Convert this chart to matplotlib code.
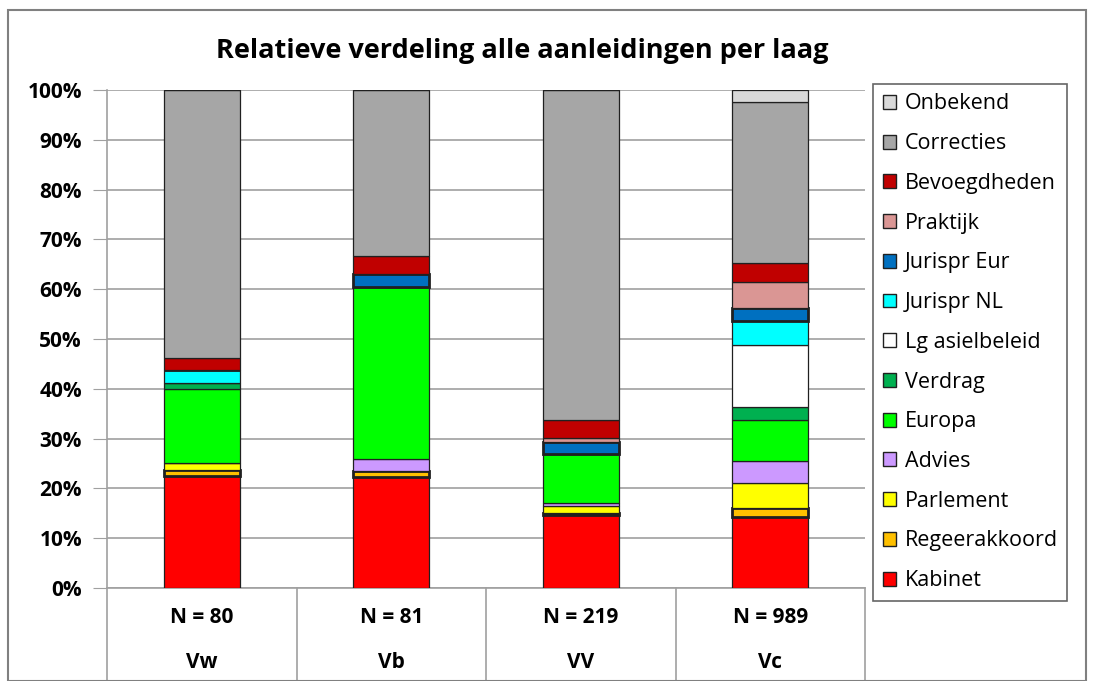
import matplotlib
matplotlib.use("Agg")
import matplotlib.pyplot as plt
from matplotlib.patches import Rectangle
from matplotlib.lines import Line2D
import numpy as np

plt.rcParams["font.family"] = ["Open Sans", "DejaVu Sans"]

# data (percent per layer)
groups = ["Vw", "Vb", "VV", "Vc"]
n_labels = ["N = 80", "N = 81", "N = 219", "N = 989"]
series = ["Kabinet", "Regeerakkoord", "Parlement", "Advies", "Europa", "Verdrag",
          "Lg asielbeleid", "Jurispr NL", "Jurispr Eur", "Praktijk",
          "Bevoegdheden", "Correcties", "Onbekend"]
kabinet = [22.5, 22.2, 14.6, 14.3]
regeerakkoord = [1.25, 1.2, 0.5, 1.8]
parlement = [1.25, 0.0, 1.4, 5.0]
advies = [0.0, 2.5, 0.5, 4.4]
europa = [15.0, 34.6, 10.0, 8.2]
verdrag = [1.25, 0.0, 0.0, 2.6]
lg_asielbeleid = [0.0, 0.0, 0.0, 12.4]
jurispr_nl = [2.5, 0.0, 0.0, 5.0]
jurispr_eur = [0.0, 2.5, 2.3, 2.6]
praktijk = [0.0, 0.0, 0.9, 5.1]
bevoegdheden = [2.5, 3.7, 3.6, 3.8]
correcties = [53.75, 33.3, 66.2, 32.3]
onbekend = [0.0, 0.0, 0.0, 2.5]

values = [kabinet, regeerakkoord, parlement, advies, europa, verdrag,
          lg_asielbeleid, jurispr_nl, jurispr_eur, praktijk,
          bevoegdheden, correcties, onbekend]
colors = ["#FF0000", "#FFC000", "#FFFF00", "#CC99FF", "#00FF00", "#00B050",
          "#FFFFFF", "#00FFFF", "#0070C0", "#DA9694", "#C00000", "#A6A6A6",
          "#D9D9D9"]
thick = {"Regeerakkoord", "Jurispr Eur"}

fig = plt.figure(figsize=(10.94, 6.81), dpi=100)
ax = fig.add_axes([0.0978, 0.1366, 0.6929, 0.7312])

x = np.arange(len(groups))
bottom = np.zeros(len(groups))
for name, vals, col in zip(series, values, colors):
    vals = np.array(vals)
    lw = 2.0 if name in thick else 0.9
    ax.bar(x, vals, 0.4, bottom=bottom, color=col, edgecolor="#202020",
           linewidth=lw, zorder=3)
    bottom += vals

ax.set_xlim(-0.5, len(groups) - 0.5)
ax.set_ylim(0, 100)
ax.set_yticks(np.arange(0, 101, 10))
ax.set_yticklabels([f"{v}%" for v in range(0, 101, 10)], fontsize=15,
                   fontweight="bold")
ax.tick_params(axis="y", length=10, color="#A0A0A0", pad=8)
ax.set_xticks([])
ax.grid(axis="y", color="#A0A0A0", linewidth=1.2, zorder=0)
for s in ["top", "right"]:
    ax.spines[s].set_visible(False)
ax.spines["left"].set_color("#A0A0A0")
ax.spines["bottom"].set_color("#A0A0A0")
ax.spines["left"].set_linewidth(1.2)
ax.spines["bottom"].set_linewidth(1.2)

# category table under the axis
for i in range(len(groups) + 1):
    ax.add_line(Line2D([i - 0.5, i - 0.5], [0, -19], color="#A0A0A0",
                       linewidth=1.2, transform=ax.transData, clip_on=False))
for i, (n, g) in enumerate(zip(n_labels, groups)):
    ax.text(i, -6, n, ha="center", va="center", fontsize=15,
            fontweight="bold")
    ax.text(i, -15, g, ha="center", va="center", fontsize=15,
            fontweight="bold")

fig.text(0.477, 0.925, "Relatieve verdeling alle aanleidingen per laag",
         ha="center", va="center", fontsize=19.5, fontweight="bold")

handles = [Rectangle((0, 0), 1, 1, facecolor=c, edgecolor="#202020",
                     linewidth=1.0) for c in colors]
leg = fig.legend(handles[::-1], series[::-1], loc="upper left",
                 bbox_to_anchor=(0.798, 0.877), fontsize=15.5, frameon=True,
                 fancybox=False, edgecolor="#404040", handlelength=0.62,
                 handleheight=0.62, handletextpad=0.4, labelspacing=0.87,
                 borderpad=0.45, borderaxespad=0)
leg.get_frame().set_linewidth(1.2)

# outer chart border
fig.add_artist(Rectangle((8 / 1094, 0), 1078 / 1094, 671 / 681,
                         transform=fig.transFigure, fill=False,
                         edgecolor="#808080", linewidth=1.5))

fig.savefig("out.png", dpi=100)
